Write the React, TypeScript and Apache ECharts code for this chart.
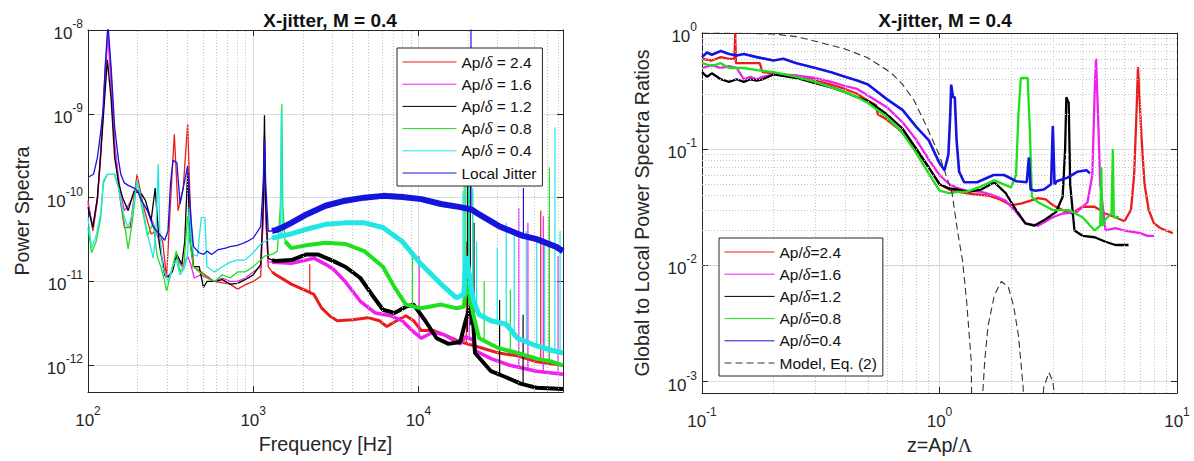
import React, { useEffect, useRef } from 'react';
import * as echarts from 'echarts';

const FONT = 'Liberation Sans, Arial, Helvetica, sans-serif';
const AX = '#262626';

// ---------------- titles / labels ----------------
const panelTitle = 'X-jitter, M = 0.4';
const leftXName = 'Frequency [Hz]';
const leftYName = 'Power Spectra';
const rightXName = 'z=Ap/{g|Λ}';
const rightYName = 'Global to Local Power Spectra Ratios';

// ---------------- LEFT PANEL: power spectra [f (Hz), PSD] ----------------
const leftNames = ['Ap/δ = 2.4', 'Ap/δ = 1.6', 'Ap/δ = 1.2', 'Ap/δ = 0.8', 'Ap/δ = 0.4', 'Local Jitter'];
const leftColors = ['#ec1c1c', '#f01ff0', '#000000', '#1ee01e', '#22e6e6', '#1414dc'];
const leftThick = [3, 3.5, 4, 4, 5, 6];

const red24Low = [[100,9.2e-11],[107,4e-11],[114,9e-11],[119,3e-10],[125,2e-9],[132,1e-8],[138,3e-9],[145,4.4e-10],[157,9.2e-11],[166,4.4e-11],[180,4.4e-11],[198,1.9e-10],[217,7.7e-11],[241,3.7e-11],[262,4e-11],[283,3e-11],[299,1.1e-11],[316,9e-11],[333,5.7e-10],[351,7e-11],[377,1.3e-10],[401,7.6e-10],[415,9e-11],[435,1.5e-11],[471,1.35e-11],[525,1.15e-11],[583,1e-11],[724,9.3e-12],[804,8.1e-12],[894,9.1e-12],[1000,1e-11],[1110,1.15e-11],[1150,6e-11],[1170,5.7e-10],[1190,6e-11],[1233,1.5e-11],[1300,1.3e-11]];
const red24High = [[1300,1.3e-11],[1371,1.2e-11],[1700,9.3e-12],[2100,7.7e-12],[2330,7e-12],[2600,4.8e-12],[2900,3.9e-12],[3230,3.4e-12],[4000,3.5e-12],[4950,3.7e-12],[5800,3.4e-12],[6430,2.9e-12],[7560,3.5e-12],[8400,3.9e-12],[9350,3.4e-12],[10400,2.6e-12],[12300,2.6e-12],[14400,2.3e-12],[17900,1.9e-12],[22000,1.7e-12],[30600,1.4e-12],[39800,1.3e-12],[51900,1.1e-12],[75000,1e-12]];
const red24Spikes = [[2200,7.6e-12,1.6e-11],[19500,1.9e-12,3e-11],[55000,1.1e-12,7e-11],[62000,1.05e-12,6e-11]];

const mag16Low = [[100,8.5e-11],[107,4.5e-11],[114,1e-10],[120,4e-10],[126,2e-9],[132,9e-9],[138,2e-9],[145,4e-10],[157,1.2e-10],[166,7e-11],[175,8e-11],[190,1.1e-10],[200,1.2e-10],[211,9e-11],[229,7e-11],[248,5e-11],[270,3e-11],[291,1.3e-11],[307,1.1e-11],[324,1.4e-11],[345,2e-11],[370,1.5e-11],[401,2e-11],[419,1.6e-11],[440,1.1e-11],[480,1.2e-11],[525,1.1e-11],[583,1e-11],[650,1.1e-11],[724,1e-11],[804,1e-11],[894,1.1e-11],[1000,1.3e-11],[1110,1.5e-11],[1150,6e-11],[1170,5e-10],[1190,6e-11],[1233,1.7e-11],[1300,1.7e-11]];
const mag16High = [[1300,1.7e-11],[1700,1.65e-11],[2100,1.8e-11],[2330,1.9e-11],[2740,1.6e-11],[3060,1.4e-11],[3600,1e-11],[4450,5.8e-12],[5500,4.2e-12],[6800,3.9e-12],[7970,3.4e-12],[9350,2.5e-12],[10400,2.1e-12],[12300,2.5e-12],[14400,2.3e-12],[17900,1.8e-12],[19300,2.2e-12],[21500,2e-12],[22000,1.5e-12],[27500,1.2e-12],[35700,1e-12],[51900,8.5e-13],[75000,7.8e-13]];
const mag16Spikes = [[10100,2.2e-12,2e-11],[20300,2e-12,1e-10],[40500,9.5e-13,7.5e-11],[46000,9e-13,5e-11],[57000,8.5e-13,6e-11],[70000,8e-13,2e-11]];

const blk12Low = [[100,7.7e-11],[107,4.4e-11],[114,1e-10],[119,3e-10],[125,1.2e-9],[131,4.4e-9],[138,1.5e-9],[145,3e-10],[153,1.5e-10],[162,1e-10],[175,7e-11],[190,1.2e-10],[211,1.1e-10],[223,9.2e-11],[241,5.3e-11],[255,1.3e-10],[270,2.8e-11],[291,1.2e-11],[299,1.1e-11],[324,1.3e-11],[345,2.1e-11],[370,1.6e-11],[385,3e-11],[401,2e-10],[415,3e-11],[435,1.5e-11],[471,1.5e-11],[500,8.5e-12],[525,1e-11],[583,1e-11],[650,1.05e-11],[724,9.3e-12],[804,9.5e-12],[894,1.05e-11],[1000,1.2e-11],[1110,1.6e-11],[1150,8e-11],[1170,9.6e-10],[1185,1e-10],[1233,1.9e-11],[1300,1.8e-11]];
const blk12High = [[1300,1.8e-11],[1371,1.75e-11],[1700,1.8e-11],[2100,2.1e-11],[2460,2.1e-11],[3060,1.75e-11],[3600,1.5e-11],[4450,1.1e-11],[5220,7e-12],[6100,4.6e-12],[7170,4.2e-12],[8400,5e-12],[9350,5.3e-12],[11000,3.4e-12],[12900,2.1e-12],[15200,1.8e-12],[17900,1.9e-12],[19300,3.4e-12],[20500,5e-12],[21500,3e-12],[22000,1.4e-12],[27500,8.5e-13],[33900,7.2e-13],[41900,6e-13],[51900,5.4e-13],[75000,5.2e-13]];
const blk12Spikes = [[19800,2.5e-12,1.6e-10],[20600,3e-12,2.2e-10],[21700,1.6e-12,5e-11],[31000,7.5e-13,6e-12],[43000,6e-13,4e-12]];

const grn08Low = [[100,4.4e-11],[105,2.2e-11],[112,3e-11],[119,5.5e-11],[124,1.5e-10],[131,1.9e-10],[145,1.9e-10],[153,1.3e-10],[166,5e-11],[175,2.45e-11],[185,5e-11],[198,1.6e-10],[211,8e-11],[229,3.5e-11],[248,5e-11],[262,2e-11],[276,1.5e-11],[291,1e-11],[299,7.7e-12],[316,1.2e-11],[342,2.3e-11],[361,1.3e-11],[380,1.5e-11],[401,6e-11],[419,2.5e-11],[435,1.5e-11],[471,1.3e-11],[500,1.2e-11],[525,1.1e-11],[583,1e-11],[650,1.2e-11],[724,1.1e-11],[804,1.3e-11],[894,1.3e-11],[1000,1.5e-11],[1110,1.8e-11],[1170,2e-11],[1300,2.1e-11],[1400,2.3e-11],[1460,8e-11],[1490,1.3e-9],[1510,8e-11],[1560,3e-11]];
const grn08High = [[1560,3e-11],[1700,2.5e-11],[2100,2.7e-11],[2740,2.9e-11],[3600,2.8e-11],[4700,2.3e-11],[6100,1.5e-11],[7170,8.5e-12],[8400,5.3e-12],[10400,4.8e-12],[13700,5.3e-12],[16900,4.8e-12],[18800,5e-12],[19600,1e-11],[21500,4e-12],[23300,2.1e-12],[30600,1.6e-12],[39800,1.4e-12],[51900,1.2e-12],[64700,1.1e-12],[75000,1e-12]];
const grn08Spikes = [[9200,5.2e-12,2.1e-11],[18900,5e-12,1.5e-10],[20100,5e-12,2.5e-10],[21300,4e-12,1.2e-10],[25000,2e-12,1e-11],[36000,1.4e-12,8e-12],[62000,1.1e-12,2.3e-10]];

const cyn04Low = [[100,5.8e-11],[105,2.5e-11],[112,3.5e-11],[119,6.3e-11],[124,1.6e-10],[131,1.9e-10],[145,1.9e-10],[153,1.3e-10],[166,5.8e-11],[175,4.4e-11],[185,6.3e-11],[198,1.6e-10],[211,9.2e-11],[229,3.7e-11],[248,1.9e-11],[258,4e-11],[266,2.5e-10],[272,4e-11],[283,1.5e-11],[299,1.1e-11],[307,1e-11],[325,1.5e-11],[342,1.8e-11],[361,1.2e-11],[380,1.4e-11],[400,2e-11],[412,7.6e-11],[425,3e-11],[435,2.1e-11],[460,2e-11],[485,5.8e-11],[510,5.8e-11],[525,1.5e-11],[583,1.3e-11],[650,1.5e-11],[724,1.7e-11],[800,1.8e-11],[894,1.8e-11],[1000,2.2e-11],[1110,2.8e-11],[1170,3e-11],[1300,3.3e-11],[1460,3.5e-11],[1480,1.1e-9],[1500,3.6e-11]];
const cyn04High = [[1300,3.3e-11],[1700,3.7e-11],[2100,4.2e-11],[2740,4.8e-11],[3600,5e-11],[4700,5e-11],[6100,4.4e-11],[7970,3e-11],[10400,1.6e-11],[13700,9.3e-12],[16900,6.4e-12],[18800,7e-12],[19500,2e-11],[21500,6e-12],[23300,4e-12],[27500,3.4e-12],[33900,3.1e-12],[39800,2.1e-12],[51900,1.7e-12],[64700,1.5e-12],[75000,1.4e-12]];
const cyn04Spikes = [[18600,7e-12,1.2e-10],[19300,7e-12,1.6e-10],[20300,7e-12,1.3e-10],[21300,6e-12,1.3e-10],[22500,5e-12,3e-11],[30000,3.2e-12,2.5e-11],[34000,3e-12,5e-11],[38000,2.5e-12,4e-11],[45000,2e-12,4e-11],[52000,1.7e-12,3e-11],[58000,1.6e-12,3e-11],[67000,1.5e-12,6.9e-10],[72000,1.4e-12,4e-11]];

const jitLow = [[100,1.75e-10],[108,1.9e-10],[114,3e-10],[119,5.8e-10],[124,1.2e-9],[127,3.6e-9],[132,1.2e-8],[138,3.6e-9],[145,6.9e-10],[153,2.8e-10],[158,1.9e-10],[166,1.5e-10],[175,1.4e-10],[190,1.3e-10],[200,1.2e-10],[211,9.2e-11],[229,7e-11],[248,4.5e-11],[270,3.7e-11],[291,3.1e-11],[305,4e-11],[316,1.5e-10],[327,2.8e-10],[345,2.6e-10],[361,8.5e-11],[377,1.3e-10],[401,2.4e-10],[419,5.8e-11],[435,2.6e-11],[471,2.2e-11],[500,2.1e-11],[525,2.3e-11],[560,2.1e-11],[615,2.4e-11],[680,2.5e-11],[724,2.6e-11],[800,2.7e-11],[848,2.8e-11],[920,3e-11],[1000,3.3e-11],[1110,4.5e-11],[1150,1.5e-10],[1170,5e-10],[1190,1.5e-10],[1233,4e-11],[1300,4e-11]];
const jitHigh = [[1300,4e-11],[1371,4.1e-11],[1500,4.4e-11],[1700,5e-11],[2100,6.3e-11],[2740,8e-11],[3600,9.2e-11],[4700,1e-10],[6100,1.05e-10],[8000,1.02e-10],[10400,9.6e-11],[13700,8.4e-11],[17900,7.7e-11],[21000,7.2e-11],[23300,6.3e-11],[30600,4.6e-11],[39800,3.7e-11],[43000,3.5e-11],[51900,3.2e-11],[68000,2.6e-11],[75000,2.3e-11]];
const jitSpikes = [[20800,7.3e-11,2e-8],[43200,3.5e-11,1.3e-10]];

const leftSets = [
  [red24Low, red24High, red24Spikes],
  [mag16Low, mag16High, mag16Spikes],
  [blk12Low, blk12High, blk12Spikes],
  [grn08Low, grn08High, grn08Spikes],
  [cyn04Low, cyn04High, cyn04Spikes],
  [jitLow, jitHigh, jitSpikes],
];

// ---------------- RIGHT PANEL: ratio vs z ----------------
const rightNames = ['Ap/δ=2.4', 'Ap/δ=1.6', 'Ap/δ=1.2', 'Ap/δ=0.8', 'Ap/δ=0.4', 'Model, Eq. (2)'];
const rightColors = ['#ec1c1c', '#f01ff0', '#000000', '#1ee01e', '#1414e0', '#333333'];

const rRed24 = [[0.1,0.6],[0.11,0.58],[0.12,0.62],[0.13,0.6],[0.137,0.6],[0.138,1.0],[0.139,0.55],[0.15,0.55],[0.16,0.55],[0.175,0.55],[0.18,0.46],[0.2,0.45],[0.25,0.43],[0.3,0.39],[0.35,0.36],[0.4,0.33],[0.45,0.3],[0.5,0.26],[0.54,0.24],[0.55,0.2],[0.6,0.18],[0.7,0.14],[0.8,0.1],[0.9,0.07],[1.0,0.05],[1.1,0.045],[1.2,0.043],[1.4,0.041],[1.6,0.04],[1.8,0.037],[2.0,0.033],[2.2,0.034],[2.4,0.036],[2.6,0.038],[2.8,0.037],[3.0,0.033],[3.3,0.03],[3.6,0.028],[4.0,0.032],[4.5,0.032],[5.0,0.028],[5.5,0.026],[6.0,0.024],[6.4,0.03],[6.6,0.06],[6.75,0.2],[6.85,0.51],[6.95,0.28],[7.1,0.12],[7.3,0.05],[7.6,0.03],[8.0,0.023],[8.5,0.021],[9.0,0.02],[9.6,0.019]];
const rMag16 = [[0.1,0.5],[0.11,0.53],[0.12,0.5],[0.13,0.52],[0.14,0.5],[0.15,0.4],[0.16,0.42],[0.17,0.4],[0.18,0.42],[0.2,0.44],[0.25,0.43],[0.3,0.41],[0.35,0.38],[0.4,0.35],[0.45,0.33],[0.5,0.29],[0.6,0.23],[0.7,0.17],[0.8,0.12],[0.9,0.082],[1.0,0.06],[1.1,0.05],[1.2,0.046],[1.3,0.044],[1.5,0.043],[1.7,0.04],[1.9,0.036],[2.1,0.029],[2.3,0.023],[2.6,0.022],[3.0,0.026],[3.3,0.028],[3.8,0.029],[4.2,0.035],[4.4,0.06],[4.5,0.3],[4.56,0.6],[4.65,0.2],[4.75,0.05],[5.0,0.02],[5.5,0.021],[6.0,0.02],[7.0,0.019],[7.5,0.018],[8.0,0.018]];
const rBlk12 = [[0.1,0.46],[0.105,0.42],[0.11,0.45],[0.12,0.4],[0.13,0.38],[0.14,0.4],[0.15,0.38],[0.16,0.4],[0.17,0.39],[0.18,0.4],[0.2,0.44],[0.25,0.41],[0.3,0.37],[0.35,0.34],[0.4,0.31],[0.45,0.28],[0.5,0.26],[0.6,0.2],[0.7,0.15],[0.8,0.1],[0.9,0.07],[1.0,0.05],[1.1,0.046],[1.2,0.045],[1.3,0.043],[1.5,0.045],[1.7,0.052],[1.9,0.042],[2.1,0.03],[2.3,0.023],[2.5,0.022],[2.8,0.025],[3.1,0.029],[3.3,0.039],[3.38,0.1],[3.42,0.28],[3.5,0.25],[3.55,0.05],[3.7,0.02],[4.0,0.018],[4.5,0.0175],[5.0,0.016],[5.5,0.015],[6.0,0.015],[6.25,0.015]];
const rGrn08 = [[0.1,0.55],[0.11,0.52],[0.12,0.55],[0.13,0.5],[0.15,0.5],[0.17,0.48],[0.2,0.46],[0.25,0.42],[0.3,0.38],[0.35,0.34],[0.4,0.31],[0.45,0.28],[0.5,0.25],[0.6,0.19],[0.7,0.137],[0.8,0.092],[0.9,0.062],[1.0,0.044],[1.1,0.042],[1.2,0.043],[1.3,0.043],[1.5,0.048],[1.7,0.054],[2.0,0.047],[2.1,0.06],[2.15,0.2],[2.2,0.41],[2.35,0.41],[2.4,0.15],[2.45,0.039],[2.6,0.035],[3.0,0.03],[3.5,0.03],[4.0,0.026],[4.5,0.02],[4.75,0.022],[4.8,0.07],[4.85,0.022],[5.0,0.025],[5.3,0.028],[5.37,0.1],[5.42,0.026],[5.7,0.026]];
const rBlu04 = [[0.1,0.62],[0.105,0.68],[0.11,0.65],[0.12,0.7],[0.13,0.66],[0.14,0.64],[0.15,0.66],[0.17,0.62],[0.2,0.58],[0.22,0.6],[0.25,0.55],[0.3,0.5],[0.35,0.46],[0.4,0.42],[0.45,0.39],[0.5,0.36],[0.6,0.27],[0.7,0.217],[0.8,0.155],[0.9,0.12],[1.0,0.076],[1.05,0.066],[1.09,0.09],[1.11,0.2],[1.12,0.36],[1.14,0.28],[1.16,0.28],[1.18,0.12],[1.21,0.064],[1.27,0.052],[1.44,0.052],[1.69,0.06],[1.87,0.06],[2.11,0.053],[2.33,0.052],[2.38,0.085],[2.42,0.045],[2.54,0.044],[2.75,0.045],[2.95,0.05],[3.0,0.158],[3.05,0.05],[3.12,0.053],[3.46,0.057],[3.8,0.064],[4.16,0.066],[4.3,0.062]];
const rModel = [[0.1,1.0],[0.15,0.995],[0.2,0.98],[0.25,0.93],[0.3,0.85],[0.4,0.73],[0.5,0.61],[0.6,0.48],[0.64,0.435],[0.7,0.36],[0.78,0.265],[0.885,0.155],[1.0,0.088],[1.13,0.042],[1.19,0.02],[1.25,0.011],[1.3,0.005],[1.36,0.0015],[1.4,1e-5],[1.5,5e-4],[1.55,0.0015],[1.6,0.003],[1.7,0.0055],[1.82,0.0073],[1.95,0.0065],[2.05,0.0045],[2.15,0.0025],[2.25,0.0009],[2.4,1e-5],[2.65,4e-4],[2.75,0.0009],[2.89,0.0012],[3.0,0.001],[3.1,0.0006],[3.3,1e-5]];

const rightSets = [rRed24, rMag16, rBlk12, rGrn08, rBlu04, rModel];
const rightWidths = [2.3, 2.3, 2.3, 2.3, 2.6, 1.1];

// ---------------- helpers ----------------
const supLabel = (v: number) => {
  const e = Math.log10(v);
  const r = Math.round(e);
  if (Math.abs(e - r) > 1e-6) return '';
  return `{b|10}{s|${r}}`;
};
const supRich = {
  b: { fontSize: 17, fontFamily: FONT, color: AX, lineHeight: 24, verticalAlign: 'bottom' },
  s: { fontSize: 12, fontFamily: FONT, color: AX, lineHeight: 14, verticalAlign: 'top' },
};

function minorValues(lo: number, hi: number) {
  const out: number[] = [];
  for (let d = Math.pow(10, Math.floor(Math.log10(lo))); d < hi; d *= 10) {
    for (let m = 2; m <= 9; m++) {
      const v = m * d;
      if (v > lo && v < hi) out.push(v);
    }
  }
  return out;
}

function spikeData(spikes: number[][]) {
  const out: any[] = [];
  spikes.forEach(([f, b, t]) => { out.push([f, b], [f, t], [f, '-']); });
  return out;
}

const axisCommon = (isMain: boolean) => ({
  type: 'log',
  logBase: 10,
  axisLine: { show: true, lineStyle: { color: AX, width: 1 } },
  axisTick: { show: true, inside: true, length: 6, lineStyle: { color: AX, width: 1 } },
  axisLabel: isMain
    ? { show: true, formatter: supLabel, rich: supRich, color: AX, showMinLabel: true, showMaxLabel: true }
    : { show: false },
  splitLine: isMain ? { show: true, lineStyle: { color: '#dcdcdc', width: 1 } } : { show: false },
});

export default function App() {
  const ref = useRef<HTMLDivElement>(null);
  useEffect(() => {
    if (!ref.current) return;
    const chart = echarts.init(ref.current, undefined, { renderer: 'svg' });

    const LX = [100, 75000];
    const LY = [4.8e-13, 1e-8];
    const RX = [0.1, 10];
    const RY = [8e-4, 1];
    const nameStyle = { fontSize: 19.7, color: AX, fontFamily: FONT };

    const xAxis: any[] = [
      { ...axisCommon(true), gridIndex: 0, min: LX[0], max: LX[1], position: 'bottom',
        axisLabel: { ...axisCommon(true).axisLabel, margin: 13 },
        name: leftXName, nameLocation: 'middle', nameGap: 40, nameTextStyle: nameStyle },
      { ...axisCommon(false), gridIndex: 0, min: LX[0], max: LX[1], position: 'top' },
      { ...axisCommon(true), gridIndex: 1, min: RX[0], max: RX[1], position: 'bottom',
        axisLabel: { ...axisCommon(true).axisLabel, margin: 13 },
        name: rightXName, nameLocation: 'middle', nameGap: 40,
        nameTextStyle: { ...nameStyle,
          rich: { g: { fontSize: 19.7, color: AX, fontFamily: 'Liberation Serif, DejaVu Serif, serif' } } } },
      { ...axisCommon(false), gridIndex: 1, min: RX[0], max: RX[1], position: 'top' },
    ];
    const yAxis: any[] = [
      { ...axisCommon(true), gridIndex: 0, min: LY[0], max: LY[1], position: 'left',
        axisLabel: { ...axisCommon(true).axisLabel, margin: 5 },
        name: leftYName, nameLocation: 'middle', nameGap: 56, nameRotate: 90, nameTextStyle: nameStyle },
      { ...axisCommon(false), gridIndex: 0, min: LY[0], max: LY[1], position: 'right' },
      { ...axisCommon(true), gridIndex: 1, min: RY[0], max: RY[1], position: 'left',
        axisLabel: { ...axisCommon(true).axisLabel, margin: 5 },
        name: rightYName, nameLocation: 'middle', nameGap: 50, nameRotate: 90, nameTextStyle: nameStyle },
      { ...axisCommon(false), gridIndex: 1, min: RY[0], max: RY[1], position: 'right' },
    ];

    const minorGrid = (xi: number, yi: number, xr: number[], yr: number[]) => ({
      type: 'line', name: '__grid' + xi, xAxisIndex: xi, yAxisIndex: yi, data: [],
      silent: true, z: 1, symbol: 'none',
      markLine: {
        silent: true, symbol: 'none', animation: false, label: { show: false },
        emphasis: { disabled: true },
        lineStyle: { color: '#c4c4c4', type: [1, 2], width: 1 },
        data: [
          ...minorValues(xr[0], xr[1]).map((v) => ({ xAxis: v })),
          ...minorValues(yr[0], yr[1]).map((v) => ({ yAxis: v })),
        ],
      },
    });

    const line = (name: string, data: any[], color: string, width: number, xi: number, yi: number, z: number, dash?: any) => ({
      type: 'line', name, data, xAxisIndex: xi, yAxisIndex: yi,
      symbol: 'none', showSymbol: false, silent: true, clip: true, z,
      connectNulls: false,
      lineStyle: { color, width, type: dash || 'solid' },
      itemStyle: { color },
      emphasis: { disabled: true },
    });

    const series: any[] = [minorGrid(0, 0, LX, LY), minorGrid(2, 2, RX, RY)];
    leftSets.forEach(([low, high, spikes], i) => {
      const z = 2 + i;
      series.push(line(leftNames[i], low, leftColors[i], 1.3, 0, 0, z));
      series.push(line(leftNames[i], high, leftColors[i], leftThick[i], 0, 0, z));
      series.push(line(leftNames[i], spikeData(spikes), leftColors[i], 1.2, 0, 0, z));
    });
    rightSets.forEach((d, i) => {
      const isModel = i === rightSets.length - 1;
      series.push(line(rightNames[i], d, rightColors[i], rightWidths[i], 2, 2, 2 + i, isModel ? [7, 4] : undefined));
    });

    const legendCommon = {
      orient: 'vertical',
      selectedMode: false,
      backgroundColor: '#ffffff',
      borderColor: AX,
      borderWidth: 1,
      borderRadius: 0,
      itemHeight: 18,
      itemGap: 4.2,
      lineStyle: { width: 1 },
      itemStyle: { color: 'rgba(0,0,0,0)', borderWidth: 0, opacity: 0 },
      formatter: (n: string) => n.replace('δ', '{d|δ}'),
      textStyle: {
        fontSize: 15.5, color: '#111', fontFamily: FONT, lineHeight: 18,
        rich: { d: { fontSize: 16.5, fontStyle: 'italic', color: '#111', fontFamily: 'Liberation Serif, DejaVu Serif, serif', lineHeight: 18 } },
      },
      z: 10,
    };

    chart.setOption({
      animation: false,
      backgroundColor: '#ffffff',
      title: [
        { text: panelTitle, left: 325, top: 6, textAlign: 'center',
          textStyle: { fontSize: 19, fontWeight: 'bold', color: '#111', fontFamily: FONT } },
        { text: panelTitle, left: 940, top: 6, textAlign: 'center',
          textStyle: { fontSize: 19, fontWeight: 'bold', color: '#111', fontFamily: FONT } },
      ],
      grid: [
        { left: 88, top: 30, width: 475, height: 362, show: false },
        { left: 702, top: 33, width: 475, height: 360, show: false },
      ],
      legend: [
        { ...legendCommon, data: leftNames, left: 397, top: 48, itemWidth: 54, padding: [5, 6, 4, 5] },
        { ...legendCommon, data: rightNames, left: 719, top: 238, itemWidth: 50, padding: [5, 6, 4, 5] },
      ],
      xAxis,
      yAxis,
      series,
    });
    return () => chart.dispose();
  }, []);
  return (
    <div
      ref={ref}
      style={{ position: 'fixed', left: 0, top: 0, width: 1194, height: 461, background: '#fff' }}
    />
  );
}
